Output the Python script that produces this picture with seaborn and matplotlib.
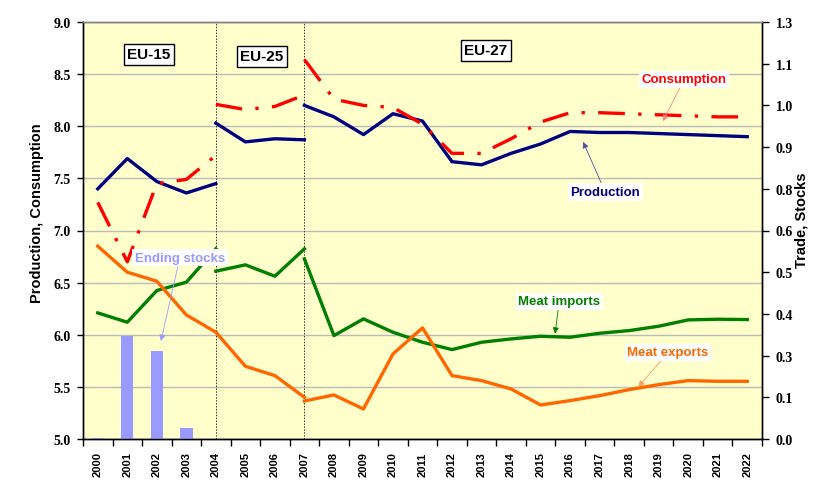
import numpy as np
import matplotlib
matplotlib.use("Agg")
import matplotlib.pyplot as plt
import seaborn as sns

# ---------------- data ----------------
all_years = list(range(2000, 2023))
years_eu15 = [2000, 2001, 2002, 2003, 2004]
years_eu25 = [2004, 2005, 2006, 2007]
years_eu27 = list(range(2007, 2023))

production_eu15 = [7.40, 7.69, 7.47, 7.36, 7.45]
production_eu25 = [8.03, 7.85, 7.88, 7.87]
production_eu27 = [8.20, 8.09, 7.92, 8.12, 8.05, 7.66, 7.63, 7.74, 7.83, 7.95,
                   7.94, 7.94, 7.93, 7.92, 7.91, 7.90]

consumption_eu15 = [7.27, 6.70, 7.45, 7.49, 7.72]
consumption_eu25 = [8.21, 8.16, 8.19, 8.30]
consumption_eu27 = [8.64, 8.26, 8.20, 8.18, 8.02, 7.74, 7.74, 7.88, 8.04, 8.13,
                    8.13, 8.12, 8.11, 8.10, 8.09, 8.09]

imports_eu15 = [0.378, 0.350, 0.445, 0.470, 0.570]
imports_eu25 = [0.503, 0.522, 0.488, 0.570]
imports_eu27 = [0.540, 0.310, 0.360, 0.320, 0.290, 0.268, 0.290, 0.300, 0.308,
                0.305, 0.317, 0.325, 0.338, 0.357, 0.359, 0.358]

exports_eu15 = [0.578, 0.500, 0.473, 0.372, 0.320]
exports_eu25 = [0.320, 0.218, 0.190, 0.125]
exports_eu27 = [0.114, 0.132, 0.090, 0.255, 0.333, 0.190, 0.175, 0.150, 0.102,
                0.115, 0.130, 0.148, 0.163, 0.175, 0.173, 0.173]

stock_years = [2000, 2001, 2002, 2003]
ending_stocks = [0.003, 0.310, 0.265, 0.033]

left_ticks = [5.0, 5.5, 6.0, 6.5, 7.0, 7.5, 8.0, 8.5, 9.0]
right_ticks = [0.0, 0.125, 0.25, 0.375, 0.5, 0.625, 0.75, 0.875, 1.0, 1.125, 1.25]
right_tick_labels = ["0.0", "0.1", "0.3", "0.4", "0.5", "0.6", "0.8", "0.9",
                     "1.0", "1.1", "1.3"]
bloc_names = ["EU-15", "EU-25", "EU-27"]
bloc_breaks = [2004, 2007]

# ---------------- style ----------------
plt.rcParams['font.family'] = ['Liberation Sans', 'DejaVu Sans']
plt.rcParams['font.weight'] = 'bold'

C_PROD = '#000080'
C_CONS = '#FF0000'
C_IMP = '#007F00'
C_EXP = '#FF6600'
C_STOCK = '#9999FF'

fig = plt.figure(figsize=(8.38, 5.02), dpi=100)
ax = fig.add_axes([83 / 838, 62 / 502, 679 / 838, 417 / 502])
ax.set_facecolor('#FFFFCC')
ax2 = ax.twinx()

# ---------------- primary axis: production / consumption ----------------
cons_style = (0, (8, 4, 1, 4))
for yrs, vals in [(years_eu15, production_eu15), (years_eu25, production_eu25),
                  (years_eu27, production_eu27)]:
    sns.lineplot(x=yrs, y=vals, ax=ax, color=C_PROD, lw=2.4, zorder=3)
for yrs, vals in [(years_eu15, consumption_eu15), (years_eu25, consumption_eu25),
                  (years_eu27, consumption_eu27)]:
    sns.lineplot(x=yrs, y=vals, ax=ax, color=C_CONS, lw=2.4, linestyle=cons_style,
                 dash_capstyle='butt', zorder=3)

for b in bloc_breaks:
    ax.axvline(b, color='#333333', ls=(0, (1.5, 1.5)), lw=0.7, zorder=2)

ax.set_ylim(5.0, 9.0)
ax.set_yticks(left_ticks)
ax.set_yticklabels([f"{v:.1f}" for v in left_ticks],
                   fontfamily='Liberation Serif', fontweight='bold', fontsize=10)
ax.yaxis.grid(True, color='#BBBBBB', lw=1)
ax.set_axisbelow(True)
ax.tick_params(axis='y', direction='out', length=4, width=1, pad=5)
ax.set_ylabel("Production, Consumption", fontsize=10.5, fontweight='bold')
ax.yaxis.set_label_coords(-0.057, 0.544)

ax.set_xlim(1999.5, 2022.5)
ax.set_xticks(all_years)
ax.set_xticklabels([str(y) for y in all_years], rotation=90, fontsize=8,
                   fontweight='bold')
ax.set_xticks(np.arange(1999.5, 2023.0, 1.0), minor=True)
ax.tick_params(axis='x', which='major', length=0, pad=9)
ax.tick_params(axis='x', which='minor', direction='out', length=5, width=1)
ax.set_xlabel("")

# ---------------- secondary axis: trade / stocks ----------------
sns.barplot(x=stock_years, y=ending_stocks, ax=ax2, native_scale=True, width=0.42,
            color=C_STOCK, saturation=1, edgecolor='none', zorder=2)
for yrs, vals in [(years_eu15, imports_eu15), (years_eu25, imports_eu25),
                  (years_eu27, imports_eu27)]:
    sns.lineplot(x=yrs, y=vals, ax=ax2, color=C_IMP, lw=2.4, zorder=3)
for yrs, vals in [(years_eu15, exports_eu15), (years_eu25, exports_eu25),
                  (years_eu27, exports_eu27)]:
    sns.lineplot(x=yrs, y=vals, ax=ax2, color=C_EXP, lw=2.4, zorder=3)

ax2.set_ylim(0, 1.25)
ax2.set_yticks(right_ticks)
ax2.set_yticklabels(right_tick_labels, fontfamily='Liberation Serif',
                    fontsize=10, fontweight='bold')
ax2.tick_params(axis='y', direction='out', length=5, width=1, pad=5)
ax2.set_ylabel("Trade, Stocks", fontsize=10.5, fontweight='bold')
ax2.yaxis.set_label_coords(1.0486, 0.5276)
ax2.set_xlim(1999.5, 2022.5)
ax2.set_xlabel("")

for a in (ax, ax2):
    a.spines['top'].set_color('#808080')
    a.spines['left'].set_color('black')
    a.spines['right'].set_color('black')
    a.spines['bottom'].set_color('black')
    for s in a.spines.values():
        s.set_linewidth(1)

# ---------------- annotations ----------------
T = ax.transData
box_eu = dict(boxstyle='square,pad=0.22', fc='white', ec='black', lw=1)
for name, (bx, by) in zip(bloc_names, [(2001.73, 8.69), (2005.56, 8.67), (2013.15, 8.73)]):
    ax2.text(bx, by, name, transform=T, fontsize=11, fontweight='bold',
             ha='center', va='center', bbox=box_eu, zorder=6)


def callout(text, xy, xytext, color, arrow_color=None):
    ax2.annotate(text, xy=xy, xycoords=T, xytext=xytext, textcoords=T,
                 color=color, fontsize=9.5, fontweight='bold',
                 ha='center', va='center', zorder=6,
                 bbox=dict(boxstyle='square,pad=0.2', fc='white', ec='none'),
                 arrowprops=dict(arrowstyle='-|>', color=arrow_color or color,
                                 lw=0.6, mutation_scale=9, shrinkA=0, shrinkB=0))


callout("Consumption", (2019.15, 8.05), (2019.86, 8.45), C_CONS, '#FF8080')
callout("Production", (2016.44, 7.85), (2017.19, 7.37), C_PROD, '#5050A0')
callout("Ending stocks", (2002.14, 5.94), (2002.78, 6.74), C_STOCK)
callout("Meat imports", (2015.49, 6.01), (2015.63, 6.32), C_IMP)
callout("Meat exports", (2018.31, 5.50), (2019.32, 5.83), C_EXP, '#FF9966')

fig.savefig("out.png", dpi=100, facecolor='white')
